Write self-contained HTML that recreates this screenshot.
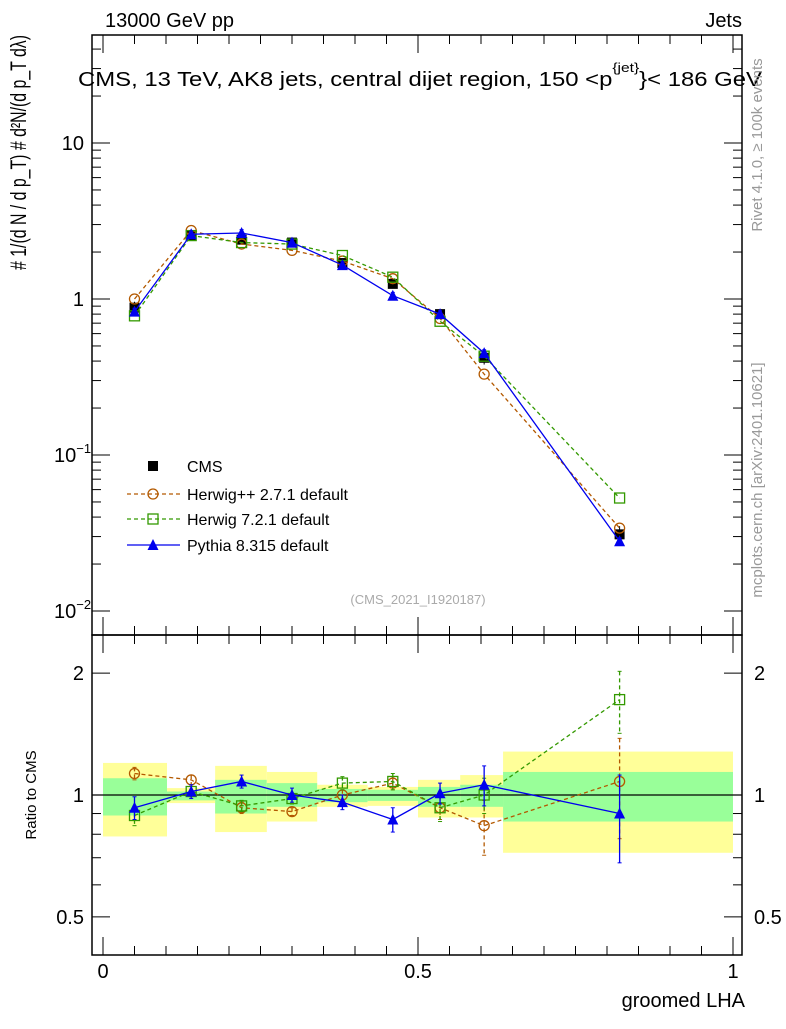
<!DOCTYPE html>
<html><head><meta charset="utf-8"><style>
body{margin:0;background:#fff;}
svg text{font-family:"Liberation Sans",sans-serif;}
</style></head><body>
<svg id="c" width="786" height="1024" xmlns="http://www.w3.org/2000/svg">
<text x="105" y="27" font-size="20">13000 GeV pp</text>
<text x="742" y="27" font-size="20" text-anchor="end">Jets</text>
<text x="78" y="86" font-size="20" textLength="684" lengthAdjust="spacingAndGlyphs">CMS, 13 TeV, AK8 jets, central dijet region, 150 &lt;p<tspan font-size="13" dy="-14">{jet}</tspan><tspan dy="14">}&lt; 186 GeV</tspan></text>
<g>
<text transform="translate(26,270) rotate(-90)" font-size="22" textLength="235" lengthAdjust="spacingAndGlyphs"># 1/(d N / d p_T) # d²N/(d p_T dλ)</text>
</g>
<text transform="translate(762,145) rotate(-90)" font-size="15" fill="#999" text-anchor="middle">Rivet 4.1.0, ≥ 100k events</text>
<text transform="translate(762,480) rotate(-90)" font-size="15" fill="#999" text-anchor="middle">mcplots.cern.ch [arXiv:2401.10621]</text>
<text x="418" y="604" font-size="13" fill="#aaa" text-anchor="middle">(CMS_2021_I1920187)</text>
<text transform="translate(36,795) rotate(-90)" font-size="15" text-anchor="middle">Ratio to CMS</text>
<text x="745" y="1007" font-size="20" text-anchor="end">groomed LHA</text>
<g id="g"></g>
</svg>
<script>
const xc=[0.05,0.14,0.22,0.30,0.38,0.46,0.535,0.605,0.82];
const edges=[0,0.1016,0.178,0.26,0.34,0.42,0.5,0.567,0.635,1.0];
const cms=[0.88,2.55,2.4,2.3,1.7,1.25,0.8,0.42,0.031];
const cmsErr=[0.08,0.1,0.1,0.1,0.08,0.08,0.05,0.04,0.004];
const hpp=[1.0,2.75,2.25,2.05,1.75,1.35,0.75,0.33,0.034];
const h7=[0.78,2.55,2.3,2.25,1.9,1.38,0.72,0.43,0.053];
const py=[0.83,2.6,2.65,2.3,1.65,1.05,0.8,0.45,0.028];
const rHpp=[1.13,1.09,0.93,0.91,1.0,1.07,0.93,0.84,1.08];
const rH7=[0.89,1.02,0.94,0.98,1.07,1.08,0.93,1.0,1.72];
const rPy=[0.93,1.02,1.08,1.0,0.96,0.87,1.01,1.06,0.9];
const eHpp=[0.04,0.03,0.03,0.02,0.03,0.04,0.06,0.13,0.3];
const eH7=[0.05,0.03,0.03,0.03,0.04,0.05,0.07,0.1,0.3];
const ePy=[0.06,0.04,0.04,0.04,0.04,0.06,0.06,0.12,0.22];
const yellowHi=[1.2,1.04,1.18,1.14,1.06,1.047,1.09,1.12,1.28];
const yellowLo=[0.79,0.955,0.81,0.86,0.935,0.94,0.88,0.88,0.72];
const greenHi=[1.1,1.02,1.09,1.07,1.035,1.03,1.047,1.06,1.14];
const greenLo=[0.89,0.97,0.9,0.935,0.96,0.967,0.935,0.935,0.86];
const L=92,R=742,T=35,M=635,B=955;
const X=v=>103+630*v;
const Y=v=>299-156*Math.log10(v);
const RY=v=>795-405*Math.log10(v);
const g=document.getElementById('g');
function el(t,a,p){const e=document.createElementNS('http://www.w3.org/2000/svg',t);for(const k in a)e.setAttribute(k,a[k]);(p||g).appendChild(e);return e;}
for(let i=0;i<9;i++){
 const a=el('rect',{x:X(edges[i]),y:RY(yellowHi[i]),width:X(edges[i+1])-X(edges[i]),height:RY(yellowLo[i])-RY(yellowHi[i]),fill:'#ffff99'});
 
 
 const b=el('rect',{x:X(edges[i]),y:RY(greenHi[i]),width:X(edges[i+1])-X(edges[i]),height:RY(greenLo[i])-RY(greenHi[i]),fill:'#99ff99'});
 
 
}
el('line',{x1:L,x2:R,y1:RY(1),y2:RY(1),stroke:'#000','stroke-width':1.3});
el('rect',{x:L,y:T,width:R-L,height:M-T,fill:'none',stroke:'#000','stroke-width':1.5});
el('rect',{x:L,y:M,width:R-L,height:B-M,fill:'none',stroke:'#000','stroke-width':1.5});
for(let k=0;k<=20;k++){const v=k*0.05;if(v>1.01)break;const big=k%10==0;const len=big?18:9;
 for(const [yb,dir] of [[M,-1],[T,1],[B,-1],[M,1]]) el('line',{x1:X(v),x2:X(v),y1:yb,y2:yb+dir*len,stroke:'#000'});
}
[['0',0],['0.5',0.5],['1',1]].forEach(([t,v])=>{const e=el('text',{x:X(v),y:978,'font-size':20,'text-anchor':'middle'});e.textContent=t;
 
 });
for(let d=-2;d<=1;d++){for(let m=1;m<10;m++){const v=m*Math.pow(10,d);const y=Y(v);if(y<T||y>M)continue;const len=m==1?18:9;
 el('line',{x1:L,x2:L+len,y1:y,y2:y,stroke:'#000'});el('line',{x1:R,x2:R-len,y1:y,y2:y,stroke:'#000'});}}
const ylab=[[10,'10'],[1,'1']];
ylab.forEach(([v,t])=>{const e=el('text',{x:84,y:Y(v)+7,'font-size':20,'text-anchor':'end'});e.textContent=t;
 
 });
[[0.1,'−1'],[0.01,'−2']].forEach(([v,t])=>{const e=el('text',{x:54,y:Y(v)+7,'font-size':20});e.textContent='10';const s=el('tspan',{'font-size':13,dy:-9},e);s.textContent=t;
 
 });
[0.5,0.6,0.7,0.8,0.9,1,2].forEach(v=>{const big=(v==1||v==2||v==0.5);const len=big?18:9;const y=RY(v);
 el('line',{x1:L,x2:L+len,y1:y,y2:y,stroke:'#000'});el('line',{x1:R,x2:R-len,y1:y,y2:y,stroke:'#000'});});
[[2,'2'],[1,'1'],[0.5,'0.5']].forEach(([v,t])=>{
 const e=el('text',{x:84,y:RY(v)+7,'font-size':20,'text-anchor':'end'});e.textContent=t;
 
 
 const f=el('text',{x:754,y:RY(v)+7,'font-size':20});f.textContent=t;
 
 });
function marker(type,x,y,c){
 if(type=='sq')return el('rect',{x:x-5,y:y-5,width:10,height:10,fill:'#000'});
 if(type=='circ')return el('circle',{cx:x,cy:y,r:5,fill:'none',stroke:c,'stroke-width':1.3});
 if(type=='osq')return el('rect',{x:x-5,y:y-5,width:10,height:10,fill:'none',stroke:c,'stroke-width':1.3});
 return el('path',{d:`M${x},${y-6}L${x+5.5},${y+5}L${x-5.5},${y+5}Z`,fill:c});
}
function series(name,vals,yf,c,type,dash,errs){
 const pts=xc.map((x,i)=>X(x)+','+yf(vals[i])).join(' ');
 const p=el('polyline',{points:pts,fill:'none',stroke:c,'stroke-width':1.3,'stroke-dasharray':dash||''});
 
 
 xc.forEach((x,i)=>{
  if(errs){const y1=yf(vals[i]+errs[i]),y2=yf(vals[i]-errs[i]);
   el('line',{x1:X(x),x2:X(x),y1:y1,y2:y2,stroke:c,'stroke-width':1.3,'stroke-dasharray':dash||''});
   el('line',{x1:X(x)-2,x2:X(x)+2,y1:y1,y2:y1,stroke:c});el('line',{x1:X(x)-2,x2:X(x)+2,y1:y2,y2:y2,stroke:c});}
  const m=marker(type,X(x),yf(vals[i]),c);
  
  
 });
}
xc.forEach((x,i)=>{el('line',{x1:X(x),x2:X(x),y1:Y(cms[i]+cmsErr[i]),y2:Y(cms[i]-cmsErr[i]),stroke:'#000'});
 const m=marker('sq',X(x),Y(cms[i]),'#000');
 
 });
series('herwigpp',hpp,Y,'#b35900','circ','4,3');
series('herwig7',h7,Y,'#339900','osq','4,3');
series('pythia',py,Y,'#0000ee','tri','',py.map(v=>v*0.05));
series('herwigpp-ratio',rHpp,RY,'#b35900','circ','4,3',eHpp);
series('herwig7-ratio',rH7,RY,'#339900','osq','4,3',eH7);
series('pythia-ratio',rPy,RY,'#0000ee','tri','',ePy);
const leg=[['CMS','sq','#000',''],['Herwig++ 2.7.1 default','circ','#b35900','4,3'],['Herwig 7.2.1 default','osq','#339900','4,3'],['Pythia 8.315 default','tri','#0000ee','']];
const ly=[466,494,519,545];
leg.forEach((l,i)=>{
 if(i>0)el('line',{x1:127,x2:180,y1:ly[i],y2:ly[i],stroke:l[2],'stroke-width':1.3,'stroke-dasharray':l[3]});
 marker(l[1],153,ly[i],l[2]);
 const t=el('text',{x:187,y:ly[i]+6,'font-size':16});t.textContent=l[0];
 
 
});
</script>
</body></html>
